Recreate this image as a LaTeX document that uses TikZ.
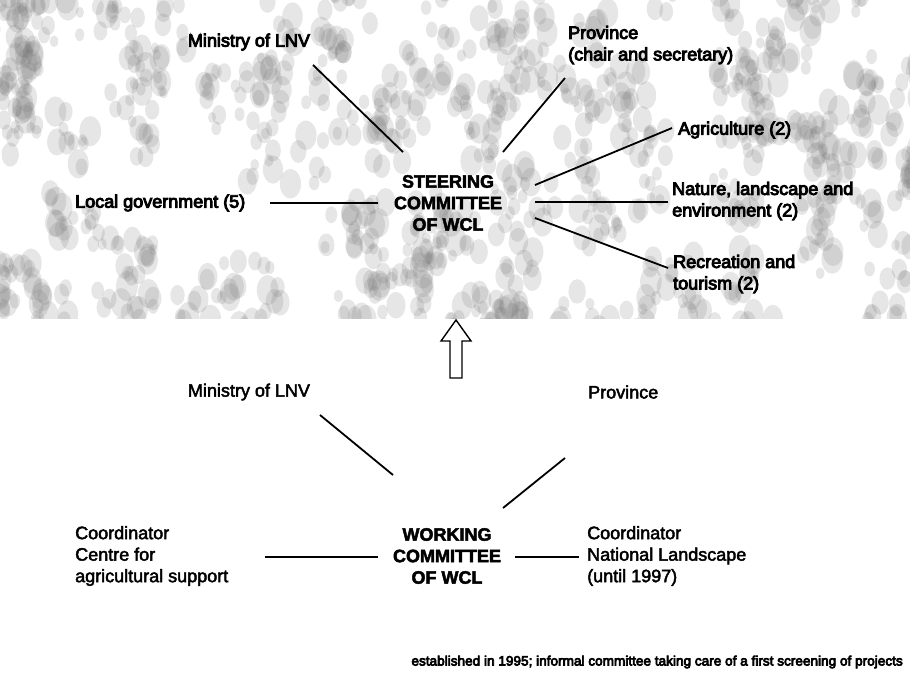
\documentclass[tikz,border=0pt]{standalone}
\usepackage{fontspec}
\setmainfont{Liberation Sans}
\newfontfamily\heavyfont[FakeBold=5]{Liberation Sans}
\newfontfamily\plainfont[FakeBold=2.5]{Liberation Sans}
\newfontfamily\hubfont[FakeBold=2.5]{Liberation Sans Bold}
\begin{document}
\begin{tikzpicture}[x=1pt, y=-1pt,
  lbl/.style={inner sep=0pt, align=left, font=\fontsize{18}{21.5}\plainfont},
  toplbl/.style={inner sep=0pt, align=left, font=\fontsize{18}{21.5}\heavyfont},
  hub/.style={inner sep=0pt, align=center, font=\fontsize{18}{21.5}\hubfont},
  note/.style={inner sep=0pt, font=\fontsize{13.6}{16}\heavyfont},
  link/.style={line width=1.8pt},
  speck/.style={fill=black!55, opacity=0.18},
  hollowarrow/.style={draw=black, line width=1.4pt, fill=white, line join=miter}]
\useasboundingbox (0,0) rectangle (910,675);

% mottled halftone backdrop of the upper panel: clusters of soft grey specks
\begin{scope}
  \clip (0,0) rectangle (910,318);
  \pgfmathsetseed{777}
  \foreach \c in {1,...,150}{
    \pgfmathsetmacro\cx{940*rnd-15}
    \pgfmathsetmacro\cy{350*rnd-15}
    \foreach \k in {1,...,7}{
      \pgfmathsetmacro\bx{\cx+40*rnd-20}
      \pgfmathsetmacro\by{\cy+52*rnd-26}
      \pgfmathsetmacro\br{4+7*rnd}
      \fill[speck] (\bx,\by) ellipse [x radius=\br pt, y radius=1.4*\br pt];
    }
  }
\end{scope}

% upper panel: steering committee
\node[hub] (sc) at (448,203) {STEERING\\COMMITTEE\\OF WCL};
\node[toplbl] (min1) at (249,42) {Ministry of LNV};
\node[toplbl, anchor=west] (prov1) at (568,45) {Province\\(chair and secretary)};
\node[toplbl, anchor=west] (agr) at (678,130) {Agriculture (2)};
\node[toplbl, anchor=west] (nat) at (672,201) {Nature, landscape and\\environment (2)};
\node[toplbl, anchor=west] (rec) at (673,274) {Recreation and\\tourism (2)};
\node[toplbl, anchor=west] (lg) at (75,203) {Local government (5)};

\draw[link] ([shift={(-45,-51)}]sc.center) -- ([shift={(64,23)}]min1.center);
\draw[link] ([shift={(55,-51)}]sc.center) -- ([shift={(-3,33)}]prov1.west);
\draw[link] ([shift={(87,-18)}]sc.center) -- ([shift={(-6,-2)}]agr.west);
\draw[link] ([shift={(87,-1)}]sc.center) -- ([shift={(-4,1)}]nat.west);
\draw[link] ([shift={(87,15)}]sc.center) -- ([shift={(-5,-6)}]rec.west);
\draw[link] ([shift={(195,0)}]lg.west) -- ([shift={(-70,0)}]sc.center);

% hollow arrow from the working committee up to the steering committee
\coordinate (up) at (456,320);
\draw[hollowarrow] (up) -- ++(-15,21) -- ++(9,0) -- ++(0,37) -- ++(12,0)
  -- ++(0,-37) -- ++(9,0) -- cycle;

% lower panel: working committee
\node[hub] (wc) at (447,556) {WORKING\\COMMITTEE\\OF WCL};
\node[lbl] (min2) at (249,392) {Ministry of LNV};
\node[lbl, anchor=west] (prov2) at (588,392) {Province};
\node[lbl, anchor=west] (cl) at (75,556) {Coordinator\\Centre for\\agricultural support};
\node[lbl, anchor=west] (cr) at (587,556) {Coordinator\\National Landscape\\(until 1997)};

\draw[link] ([shift={(-54,-81)}]wc.center) -- ([shift={(71,23)}]min2.center);
\draw[link] ([shift={(56,-48)}]wc.center) -- ([shift={(-23,66)}]prov2.west);
\draw[link] ([shift={(190,1)}]cl.west) -- ([shift={(-69,1)}]wc.center);
\draw[link] ([shift={(68,1)}]wc.center) -- ([shift={(-8,1)}]cr.west);

\node[note, anchor=east] (foot) at (903,662)
  {established in 1995; informal committee taking care of a first screening of projects};
\end{tikzpicture}
\end{document}
